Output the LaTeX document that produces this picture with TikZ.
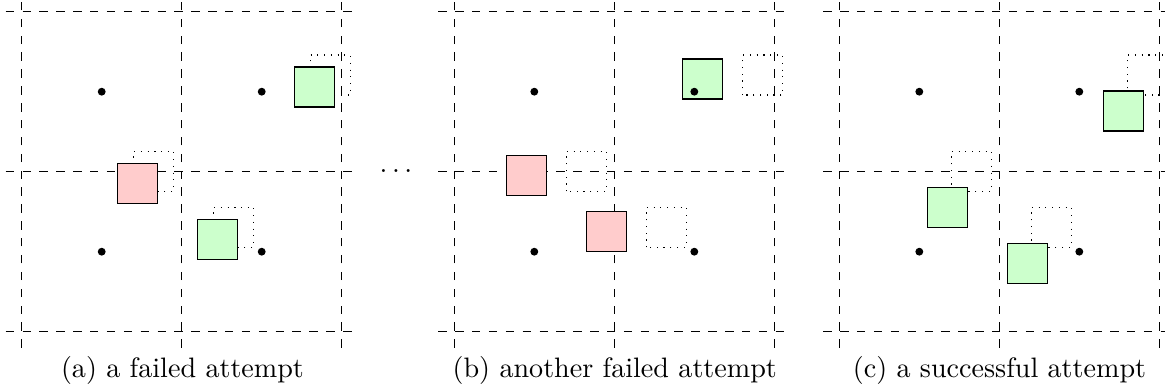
\documentclass[tikz,border=0pt]{standalone}
\begin{document}
\begin{tikzpicture}[x=2cm,y=2cm,
  gridline/.style={dashed, line width=0.4pt},
  ghost/.style={dotted, line width=0.4pt},
  site/.style={fill=black},
  subcap/.style={anchor=base, inner sep=0pt, font=\normalsize}]
\useasboundingbox (-0.1356,-0.3706) rectangle (7.1456,2.0731);

% grid of a 2x2 block of cells with the cell centres
\newcommand\cellgrid{%
  \foreach \k in {0,1,2} {
    \draw[gridline] (\k,-0.1) -- (\k,2.1);
    \draw[gridline] (-0.1,\k) -- (2.1,\k);
  }%
}
\newcommand\cellsites{%
  \foreach \i in {0.5,1.5} \foreach \j in {0.5,1.5}
    \fill[site] (\i,\j) circle (1.4pt);%
}
% original positions of the three boxes (dotted)
\newcommand\ghostboxes{%
  \foreach \x/\y in {1.8025/1.479, 0.70/0.8775, 1.2/0.5275}
    \draw[ghost] (\x,\y) rectangle ++(0.25,0.25);%
}
% boxes moved by (#1,#2), filled with the colours #3, #4, #5
\newcommand\movedboxes[5]{%
  \foreach \x/\y/\c in {1.8025/1.479/#3, 0.70/0.8775/#4, 1.2/0.5275/#5}
    \draw[draw=black, fill=\c] (\x+#1,\y+#2) rectangle ++(0.25,0.25);%
}

% (a)
\begin{scope}
  \cellgrid \ghostboxes
  \movedboxes{-0.1}{-0.075}{green!20}{red!20}{green!20}
  \cellsites
  \node[subcap] (capa) at (1.005,-0.289) {(a) a failed attempt};
\end{scope}

\node[anchor=base, inner sep=0pt] (gap) at (2.339,0.998) {$\ldots$};

% (b)
\begin{scope}[shift={(2.70375,0)}]
  \cellgrid \ghostboxes
  \movedboxes{-0.375}{-0.025}{green!20}{red!20}{red!20}
  \cellsites
  \node[subcap] (capb) at (1.003,-0.289) {(b) another failed attempt};
\end{scope}

% (c)
\begin{scope}[shift={(5.11,0)}]
  \cellgrid \ghostboxes
  \movedboxes{-0.15}{-0.225}{green!20}{green!20}{green!20}
  \cellsites
  \node[subcap] (capc) at (1.001,-0.289) {(c) a successful attempt};
\end{scope}
\end{tikzpicture}
\end{document}
